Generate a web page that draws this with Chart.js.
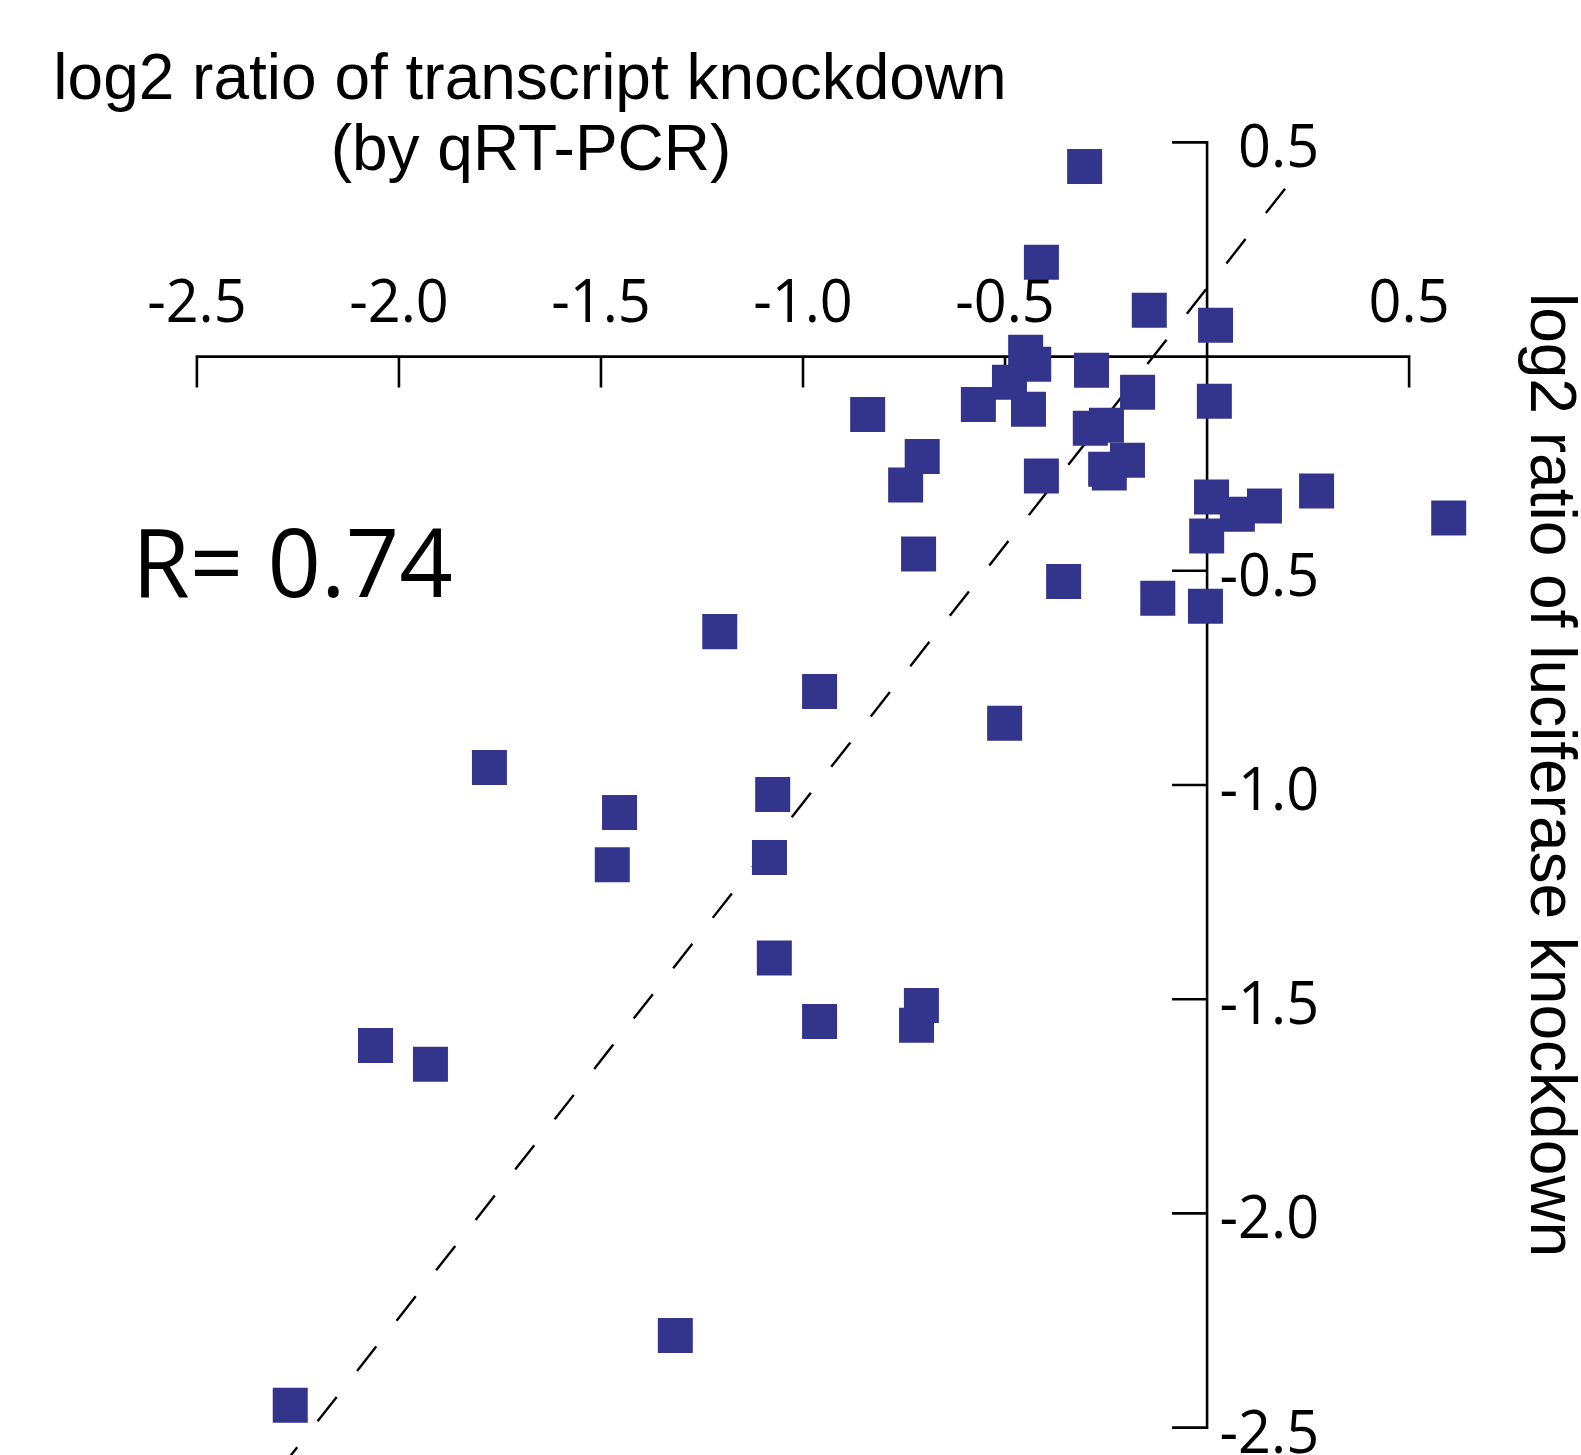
<!DOCTYPE html>
<html>
<head>
<meta charset="utf-8">
<script src="https://cdn.jsdelivr.net/npm/chart.js@4.4.0/dist/chart.umd.min.js"></script>
<style>
  html, body { margin: 0; padding: 0; background: #ffffff; }
  #wrap { width: 1581px; height: 1455px; }
</style>
</head>
<body>
<div id="wrap"><canvas id="knockdownChart" width="1581" height="1455"></canvas></div>
<script>
// log2 knockdown ratio measured by qRT-PCR (x) and by luciferase reporter (y)
const transcriptLog2 = [
  -0.303, -0.410, -0.143, 0.021, -0.449, -0.429, -0.489, -0.286, -0.566, -0.442,
  -0.172, 0.018, -0.840, -0.705, -0.289, -0.249, -0.197, -0.251, -0.242, -0.746,
  -0.410, 0.011, 0.075, 0.142, 0.271, 0.598, -0.001, -0.714, -0.355, -0.122,
  -0.004, -1.206, -0.959, -0.501, -1.776, -1.075, -1.454, -1.083, -1.472, -1.071,
  -0.959, -0.707, -0.719, -2.058, -1.922, -1.316, -2.269
];
const luciferaseLog2 = [
  0.444, 0.220, 0.108, 0.073, 0.010, -0.018, -0.060, -0.032, -0.112, -0.123,
  -0.083, -0.104, -0.135, -0.233, -0.167, -0.160, -0.242, -0.263, -0.272, -0.300,
  -0.279, -0.328, -0.368, -0.349, -0.314, -0.377, -0.419, -0.461, -0.525, -0.564,
  -0.583, -0.642, -0.782, -0.856, -0.959, -1.022, -1.064, -1.169, -1.186, -1.404,
  -1.552, -1.515, -1.561, -1.608, -1.652, -2.285, -2.448
];

// dashed trend line end points
const trendX = [0.193, -2.35];
const trendY = [0.392, -2.664];

const xTickValues = [-2.5, -2.0, -1.5, -1.0, -0.5, 0.5];
const xTickLabels = ['-2.5', '-2.0', '-1.5', '-1.0', '-0.5', '0.5'];
const yTickValues = [0.5, -0.5, -1.0, -1.5, -2.0, -2.5];
const yTickLabels = ['0.5', '-0.5', '-1.0', '-1.5', '-2.0', '-2.5'];

const xTitleLines = ['log2 ratio of transcript knockdown', '(by qRT-PCR)'];
const yTitle = 'log2 ratio of luciferase knockdown';
const correlationText = 'R= 0.74';

const points = transcriptLog2.map((x, i) => ({ x: x, y: luciferaseLog2[i] }));
const trendPoints = trendX.map((x, i) => ({ x: x, y: trendY[i] }));

function drawText(ctx, text, x, y, font, align, scaleX) {
  ctx.save();
  ctx.font = font;
  ctx.textAlign = align;
  ctx.textBaseline = 'alphabetic';
  ctx.translate(x, y);
  ctx.scale(scaleX, 1);
  ctx.fillText(text, 0, 0);
  ctx.restore();
}

// Crossed axes through the origin: x axis on top with ticks hanging down,
// y axis on the right of the data with ticks pointing left.
const crossedAxes = {
  id: 'crossedAxes',
  beforeDatasetsDraw(chart) {
    const ctx = chart.ctx;
    const xs = chart.scales.x;
    const ys = chart.scales.y;
    const x0 = xs.getPixelForValue(0);
    const y0 = ys.getPixelForValue(0);
    const tickFont = '60px "Open Sans"';

    ctx.save();
    ctx.strokeStyle = '#000000';
    ctx.fillStyle = '#000000';
    ctx.lineWidth = 2.6;
    ctx.lineCap = 'butt';

    // x axis
    const xMin = xs.getPixelForValue(xTickValues[0]);
    const xMax = xs.getPixelForValue(xTickValues[xTickValues.length - 1]);
    ctx.beginPath();
    ctx.moveTo(xMin, y0);
    ctx.lineTo(xMax, y0);
    xTickValues.forEach(v => {
      const px = xs.getPixelForValue(v);
      ctx.moveTo(px, y0 - 1.3);
      ctx.lineTo(px, y0 + 31);
    });
    ctx.stroke();
    xTickValues.forEach((v, i) => {
      drawText(ctx, xTickLabels[i], xs.getPixelForValue(v), y0 - 35, tickFont, 'center', 0.96);
    });

    // y axis
    const yTop = ys.getPixelForValue(yTickValues[0]);
    const yBottom = ys.getPixelForValue(yTickValues[yTickValues.length - 1]);
    ctx.beginPath();
    ctx.moveTo(x0, yTop);
    ctx.lineTo(x0, yBottom);
    yTickValues.forEach(v => {
      const py = ys.getPixelForValue(v);
      ctx.moveTo(x0 + 1.3, py);
      ctx.lineTo(x0 - 35, py);
    });
    ctx.stroke();
    yTickValues.forEach((v, i) => {
      drawText(ctx, yTickLabels[i], x0 + 112, ys.getPixelForValue(v) + 25, tickFont, 'right', 0.96);
    });

    // axis titles
    drawText(ctx, xTitleLines[0], 530, 99, '64px "Liberation Sans"', 'center', 1);
    drawText(ctx, xTitleLines[1], 531, 170, '64px "Liberation Sans"', 'center', 1);

    ctx.save();
    ctx.translate(1531, 775);
    ctx.rotate(Math.PI / 2);
    ctx.font = '64px "Liberation Sans"';
    ctx.textAlign = 'center';
    ctx.textBaseline = 'alphabetic';
    ctx.fillText(yTitle, 0, 0);
    ctx.restore();

    // correlation coefficient
    drawText(ctx, correlationText, 132, 597, '96px "Open Sans"', 'left', 0.975);

    ctx.restore();
  }
};

new Chart(document.getElementById('knockdownChart').getContext('2d'), {
  type: 'scatter',
  data: {
    datasets: [
      {
        label: 'knockdown',
        data: points,
        pointStyle: 'rect',
        pointRadius: 24.75,
        pointHoverRadius: 24.75,
        backgroundColor: '#33358d',
        pointBackgroundColor: '#33358d',
        borderWidth: 0,
        pointBorderWidth: 0,
        order: 1
      },
      {
        label: 'trend',
        data: trendPoints,
        showLine: true,
        borderColor: '#000000',
        borderWidth: 2.4,
        borderDash: [31, 33],
        pointRadius: 0,
        pointHoverRadius: 0,
        fill: false,
        order: 2
      }
    ]
  },
  options: {
    responsive: false,
    animation: false,
    events: [],
    layout: { padding: 0, autoPadding: false },
    plugins: {
      legend: { display: false },
      tooltip: { enabled: false },
      title: { display: false }
    },
    scales: {
      x: { type: 'linear', min: -2.9873, max: 0.9254, display: false },
      y: { type: 'linear', min: -2.5640, max: 0.8324, display: false }
    }
  },
  plugins: [crossedAxes]
});
</script>
</body>
</html>
